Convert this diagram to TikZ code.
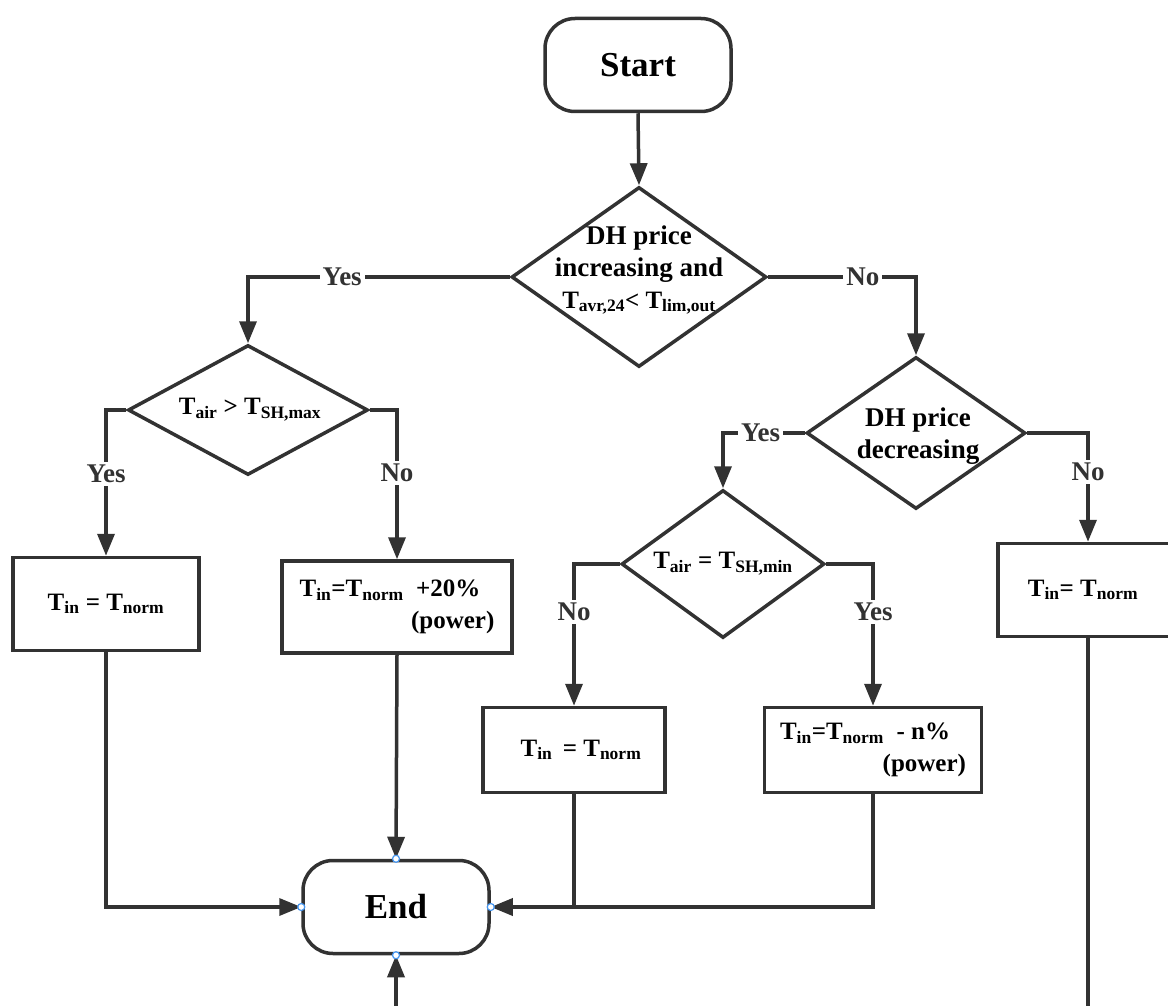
\documentclass[tikz,border=0pt]{standalone}
\usepackage{fontspec}
\setmainfont{Liberation Serif}
\usetikzlibrary{shapes.geometric,arrows.meta}
\definecolor{LineGray}{RGB}{50,50,50}
\definecolor{PortBlue}{RGB}{70,150,240}
\newcommand{\lowsub}[1]{\textsubscript{#1}}
\tikzset{
	term/.style={draw=LineGray,line width=3.5pt,rounded corners=30pt,fill=white,
		minimum width=186pt,minimum height=93pt,font=\fontsize{35}{40}\selectfont\bfseries},
	cond/.style={diamond,draw=LineGray,line width=3.5pt,fill=white,inner sep=0pt},
	qtext/.style={align=center,inner sep=0pt,font=\fontsize{27}{32}\selectfont\bfseries},
	proc/.style={rectangle,draw=LineGray,line width=3.5pt,fill=white,inner sep=6pt,
		font=\fontsize{25}{32}\selectfont\bfseries},
	flow/.style={draw=LineGray,line width=3.5pt,-{Triangle[length=22pt,width=17pt]}},
	link/.style={draw=LineGray,line width=3.5pt},
	ans/.style={fill=white,text=LineGray,inner sep=3pt,font=\fontsize{27}{30}\selectfont\bfseries},
	port/.style={circle,draw=PortBlue,fill=white,inner sep=0pt,minimum size=7pt,line width=1.2pt},
}
\begin{document}
\begin{tikzpicture}[x=1pt,y=-1pt]
	\useasboundingbox (0,0) rectangle (1168,1006);
	\clip (0,0) rectangle (1168,1006);
	\node[term] (start) at (638,65) {Start};
	\node[cond,minimum width=255pt,minimum height=180pt] (q1) at (639,277) {};
	\node[qtext] (q1t) at (639,270) {DH price\\increasing and\\
		{\fontsize{25}{32}\selectfont T\lowsub{avr,24}< T\lowsub{lim,out}}};
	\node[cond,minimum width=240pt,minimum height=130pt] (q2) at (248,410) {};
	\node[qtext,font=\fontsize{25}{32}\selectfont\bfseries] (q2t) at (250,410) {T\lowsub{air} > T\lowsub{SH,max}};
	\node[cond,minimum width=219pt,minimum height=152pt] (q3) at (916,433) {};
	\node[qtext] (q3t) at (918,436) {DH price\\decreasing};
	\node[cond,minimum width=203pt,minimum height=148pt] (q4) at (723,564) {};
	\node[qtext,font=\fontsize{25}{32}\selectfont\bfseries] (q4t) at (723,564) {T\lowsub{air} = T\lowsub{SH,min}};
	\node[proc,minimum width=186pt,minimum height=93pt] (b1) at (106,604) {T\lowsub{in} = T\lowsub{norm}};
	\node[proc,minimum width=230pt,minimum height=92pt,align=right] (b2) at (397,607)
		{T\lowsub{in}=T\lowsub{norm}\ \ +20\%\hspace*{14pt}\\(power)};
	\node[proc,minimum width=182pt,minimum height=85pt] (b3) at (574,750) {\hspace*{14pt}T\lowsub{in} \,= T\lowsub{norm}};
	\node[proc,minimum width=217pt,minimum height=85pt,align=right] (b4) at (873,750)
		{T\lowsub{in}=T\lowsub{norm}\ \ - n\%\hspace*{16pt}\\(power)};
	\node[proc,minimum width=180pt,minimum height=93pt] (b5) at (1088,590) {T\lowsub{in}= T\lowsub{norm}\hspace*{10pt}};
	\node[term] (end) at (396,907) {End};
	\coordinate (j3) at (b3.south |- end.east);
	\coordinate (low) at (end.south |- 0,1045);

	\draw[flow] (start.south) -- (q1.north);
	\draw[flow] (q1.west) -| node[ans,pos=0.32] (a1) {Yes} (q2.north);
	\draw[flow] (q1.east) -| node[ans,pos=0.32] (a2) {No} (q3.north);
	\draw[flow] (q2.west) -| node[ans,pos=0.72] (a3) {Yes} (b1.north);
	\draw[flow] (q2.east) -| node[ans,pos=0.71] (a4) {No} (b2.north);
	\draw[flow] (q3.west) -| node[ans,pos=0.27] (a5) {Yes} (q4.north);
	\draw[flow] (q3.east) -| node[ans,pos=0.68] (a6) {No} (b5.north);
	\draw[flow] (q4.west) -| node[ans,pos=0.67] (a7) {No} (b3.north);
	\draw[flow] (q4.east) -| node[ans,pos=0.67] (a8) {Yes} (b4.north);

	\draw[flow] (b1.south) |- (end.west);
	\draw[flow] (b2.south) -- (end.north);
	\draw[link] (b3.south) -- (j3);
	\draw[flow] (b4.south) |- (end.east);
	\draw[flow] (b5.south) |- (low) -- (end.south);
	\foreach \a in {north,south,east,west}
	\node[port] (end-\a) at (end.\a) {};
\end{tikzpicture}
\end{document}
